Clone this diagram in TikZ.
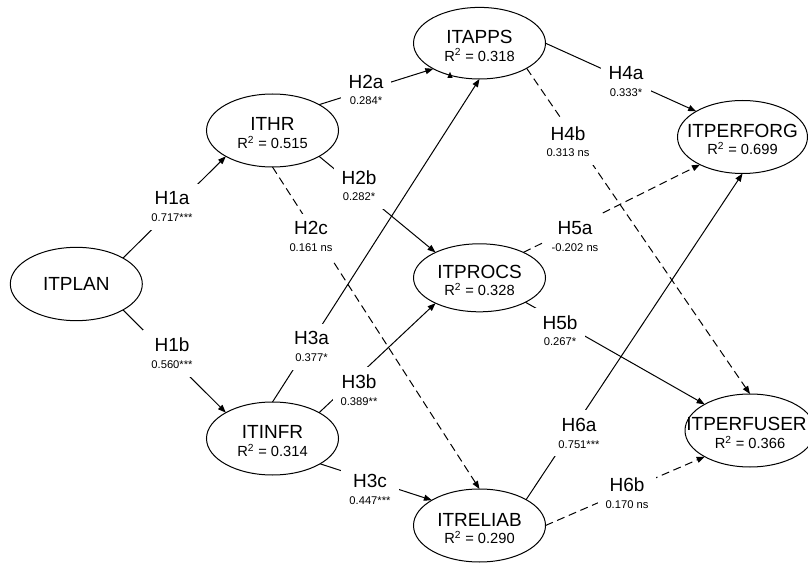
\documentclass[tikz,border=0pt]{standalone}
\usepackage{fontspec}
\setmainfont{Liberation Sans}
\usetikzlibrary{arrows.meta,shapes.geometric}
\newcommand{\pcoef}[1]{{\fontsize{8.4pt}{10pt}\selectfont #1}}
\newcommand{\latentvar}[5]{%
  \node[lvar,#4] (#1) at (#2) {};
  \node[lvname,anchor=base] (#1-name) at ([yshift=-0.375pt,xshift=#5]#1.center) {#1};
  \node[lvr,anchor=base] (#1-r2) at ([yshift=-13.5pt]#1.center) {R\textsuperscript{2} = #3};
}
\tikzset{
  lvar/.style={draw, ellipse, line width=0.75pt, minimum width=99pt, minimum height=54.75pt, inner sep=0pt, outer sep=0pt},
  lvname/.style={font=\fontsize{14.25pt}{17pt}\selectfont, inner sep=0pt},
  lvr/.style={font=\fontsize{11pt}{13pt}\selectfont, inner sep=0pt},
  hyp/.style={fill=white, align=center, inner xsep=6pt, inner ysep=6pt, font=\fontsize{14.25pt}{12.5pt}\selectfont},
  link/.style={line width=0.75pt, -{Triangle[length=6pt,width=4.5pt]}},
  nslink/.style={link, dash pattern=on 6pt off 3.5pt},
}
\begin{document}
\begin{tikzpicture}[x=0.75pt,y=-0.75pt]
\useasboundingbox (0,0) rectangle (808,563);
\clip (0,0) rectangle (808,563);

% constructs
\node[lvar, minimum height=55pt] (ITPLAN) at (76.3,284) {};
\node[lvname] (ITPLAN-name) at (ITPLAN.center) {ITPLAN};
\latentvar{ITHR}{272.5,130.5}{0.515}{}{0pt}
\latentvar{ITINFR}{272.5,438.5}{0.314}{}{0pt}
\latentvar{ITAPPS}{479.5,43.2}{0.318}{minimum height=53.7pt}{0pt}
\latentvar{ITPROCS}{479.5,277.8}{0.328}{minimum height=51pt}{0pt}
\latentvar{ITRELIAB}{479.5,525.5}{0.290}{}{0pt}
\latentvar{ITPERFORG}{742.5,137}{0.699}{minimum width=97.5pt}{0pt}
\latentvar{ITPERFUSER}{750,430.5}{0.366}{minimum width=97.5pt}{-2.6pt}

% paths
\draw[link] (ITPLAN.29) -- (ITHR.209);
\draw[link] (ITPLAN.-29) -- (ITINFR.151);
\draw[link] (ITHR.29) -- (ITAPPS.209);
\draw[link] (ITHR.-29) -- (ITPROCS.150);
\draw[nslink] (ITHR.south) -- (ITRELIAB.north);
\draw[link] (ITINFR.north) -- (ITAPPS.south);
\draw[link] (ITINFR.29) -- (ITPROCS.210);
\draw[link] (ITINFR.-28) -- (ITRELIAB.152);
\draw[link] (ITAPPS.east) -- (ITPERFORG.151);
\draw[nslink] (ITAPPS.-28) -- (ITPERFUSER.north);
\draw[nslink] (ITPROCS.30) -- (ITPERFORG.213);
\draw[link] (ITPROCS.-28) -- (ITPERFUSER.150);
\draw[link] (ITRELIAB.29) -- (ITPERFORG.south);
\draw[nslink] (ITRELIAB.east) -- (ITPERFUSER.210);

% small stray arrowhead under ITAPPS
\fill (450,71.8) -- (447.4,77.8) -- (452.6,77.8) -- cycle;

% hypothesis labels
\node[hyp] (H1a) at (172,206.7) {H1a\\\pcoef{0.717***}};
\node[hyp] (H1b) at (172,353.3) {H1b\\\pcoef{0.560***}};
\node[hyp] (H2a) at (366,90) {H2a\\\pcoef{0.284*}};
\node[hyp] (H2b) at (359,185.8) {H2b\\\pcoef{0.282*}};
\node[hyp] (H2c) at (311,236.7) {H2c\\\pcoef{0.161 ns}};
\node[hyp] (H3a) at (311.5,346.7) {H3a\\\pcoef{0.377*}};
\node[hyp] (H3b) at (359,390) {H3b\\\pcoef{0.389**}};
\node[hyp] (H3c) at (370,489.2) {H3c\\\pcoef{0.447***}};
\node[hyp] (H4a) at (626,81.7) {H4a\\\pcoef{0.333*}};
\node[hyp] (H4b) at (568,141.7) {H4b\\\pcoef{0.313 ns}};
\node[hyp] (H5a) at (575,236.7) {H5a\\\pcoef{-0.202 ns}};
\node[hyp] (H5b) at (560,330.8) {H5b\\\pcoef{0.267*}};
\node[hyp] (H6a) at (579,433.3) {H6a\\\pcoef{0.751***}};
\node[hyp] (H6b) at (627,493.3) {H6b\\\pcoef{0.170 ns}};
\end{tikzpicture}
\end{document}
